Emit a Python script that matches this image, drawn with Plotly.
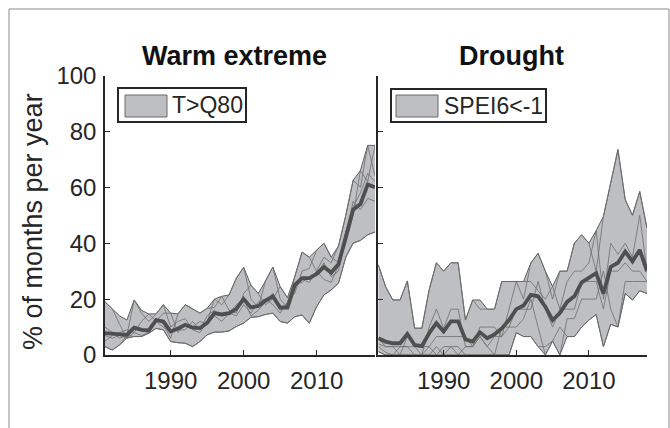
import plotly.graph_objects as go

W, H = 670, 428

years = list(range(1981, 2019))

# ---- Warm extreme (T>Q80) ----
warm_upper = [19, 16.5, 14, 12.5, 19.7, 16, 14.7, 14.7, 18, 15, 14.7, 18, 16.4, 15, 16.7, 20, 21, 21.5, 27.5, 31.4,
              25, 22, 26.5, 31.5, 24.5, 20.5, 28, 36.8, 35, 37.5, 40, 35, 39, 50, 62.5, 66, 75, 75]
warm_lower = [3, 1.8, 3.6, 6, 6.6, 6.6, 7.8, 9.5, 9, 4.8, 4.4, 4.2, 3, 4.8, 7.2, 8.2, 8.2, 8.6, 10.2, 11.4,
              13.5, 13.7, 14.5, 15, 12, 11.4, 13.7, 14.3, 11.4, 17.3, 21.5, 23.3, 25.7, 35, 40, 41, 43, 44]
warm_mean = [7.8, 7.5, 7.2, 7.2, 9.8, 9, 8.8, 12.5, 12, 8.4, 9.5, 10.8, 9.8, 9.6, 11.5, 15, 14.5, 15, 16.5, 20,
             17, 17.5, 19.5, 21, 17, 17, 25, 27.5, 27.5, 29, 31.5, 29.5, 32.5, 42, 52, 54, 61, 60]
warm_a = [10, 8, 6, 7, 19.7, 15, 12, 14.7, 18, 10, 12, 13, 9, 8, 12, 20, 18, 21.5, 27.5, 31.4,
          20, 17, 26.5, 31.5, 20, 17, 28, 36.8, 35, 30, 35, 33, 39, 50, 62.5, 60, 75, 64]
warm_b = [19, 16.5, 11, 6, 10, 9, 8, 13, 11, 6, 14.7, 18, 16.4, 15, 16.7, 17, 21, 16, 15, 22,
          25, 22, 18, 20, 24.5, 20.5, 22, 30, 31, 37.5, 40, 35, 33, 40, 50, 66, 62, 75]
warm_c = [5, 7, 8, 9, 8, 12, 14.7, 12, 15, 15, 8, 11, 10, 12, 11, 14, 12, 15, 14, 18,
          15, 19, 20, 18, 15, 19, 25, 26, 28, 29, 33, 28, 30, 42, 55, 52, 56, 55]
warm_d = [3, 1.8, 3.6, 7, 6.6, 6.6, 7.8, 9.5, 9, 4.8, 4.4, 4.2, 3, 4.8, 7.2, 8.2, 8.2, 8.6, 10.2, 11.4,
          13.5, 13.7, 14.5, 15, 12, 11.4, 13.7, 14.3, 11.4, 17.3, 21.5, 23.3, 25.7, 35, 40, 41, 43, 44]
warm_e = [7, 6, 7, 6, 8, 7, 8, 12, 10, 8, 9, 9, 12, 9, 14, 16, 14, 15, 18, 20,
          14, 16, 19, 22, 16, 18, 24, 27, 26, 30, 27, 26, 32, 44, 53, 58, 65, 62]

# ---- Drought (SPEI6<-1) ----
dry_upper = [32.3, 24.5, 19.7, 19.7, 26.5, 9.6, 9.6, 23.3, 33, 30, 33, 33, 12.5, 19.7, 19.7, 16.4, 16.4, 26.3, 26.3, 26.3,
             26.3, 32.9, 36.4, 30, 24.5, 30, 30, 40, 43, 40, 44.5, 49.6, 61.6, 73.5, 55.6, 50, 58.5, 45.4]
dry_lower = [1.2, 0, 0, 0, 0, 0, 0, 0, 0, 0, 0, 0, 0, 0, 0, 0, 0, 0, 0, 8,
             6.6, 6.6, 3, 0, 5, 0, 6.6, 6.6, 10, 12.5, 14.5, 3, 11, 10, 22, 19.7, 23, 22]
dry_mean = [6, 4.8, 4.2, 4.2, 7.5, 3.6, 3.2, 7.8, 11.4, 8.4, 12, 12, 5.6, 4.8, 8.1, 6, 7.4, 9.5, 12.5, 16.4,
            17.7, 21.5, 21, 17.3, 12.5, 15, 19, 21, 26, 27.5, 29.3, 22, 31.5, 33, 37, 33.5, 37.6, 30]
dry_a = [32.3, 24.5, 19.7, 19.7, 26.5, 9.6, 9.6, 23.3, 33, 30, 33, 33, 12.5, 19.7, 16.4, 16.4, 16.4, 26.3, 26.3, 26.3,
         20, 32.9, 36.4, 30, 20, 30, 30, 40, 43, 40, 30, 49.6, 61.6, 73.5, 55.6, 50, 58.5, 45.4]
dry_b = [3, 1, 0, 3, 3, 0, 0, 10, 16.4, 9.6, 16.4, 16.4, 3, 3, 10, 10, 10, 6.6, 16.4, 26.3,
         26.3, 26.3, 23, 20, 24.5, 16.4, 26.3, 30, 30, 33, 44.5, 20, 40, 36, 40, 35, 50, 30]
dry_c = [6, 3, 3, 0, 6.6, 3, 3, 3, 6.6, 6.6, 6.6, 6.6, 6.6, 3, 6.6, 3, 6.6, 6.6, 10, 16.4,
         16.4, 16.4, 26.3, 16.4, 10, 16.4, 16.4, 16.4, 26.3, 26.3, 26.3, 16.4, 30, 30, 33, 30, 30, 26.3]
dry_d = [1.2, 0, 0, 0, 0, 0, 0, 0, 3, 0, 3, 3, 0, 0, 0, 0, 0, 0, 0, 8,
         6.6, 6.6, 3, 3, 5, 10, 6.6, 6.6, 10, 12.5, 14.5, 3, 11, 10, 22, 19.7, 23, 22]
dry_e = [4, 3, 3, 3, 3, 3, 0, 3, 0, 3, 3, 0, 3, 3, 6.6, 3, 0, 10, 10, 10,
         13, 20, 10, 0, 5, 0, 13, 13, 20, 20, 20, 30, 16.4, 10, 26.3, 26.3, 26.3, 26.3]

panel_titles = ["Warm extreme", "Drought"]
legend_labels = ["T>Q80", "SPEI6<-1"]
y_title = "% of months per year"
x_ticks = [1990, 2000, 2010]
y_ticks = [0, 20, 40, 60, 80, 100]

FONT = "Liberation Sans, Arial, Helvetica, sans-serif"
TXT = "#262626"
BAND = "#bebfc3"
EDGE = "#5e5e5e"
THIN = "#6e6e6e"
MEAN = "#4f4f4f"


def px(x):
    return x / W


def py(y):
    return 1 - y / H


fig = go.Figure()

panels = [
    ("x", "y", warm_lower, warm_upper, [warm_a, warm_b, warm_c, warm_d, warm_e], warm_mean),
    ("x2", "y2", dry_lower, dry_upper, [dry_a, dry_b, dry_c, dry_d, dry_e], dry_mean),
]
for xa, ya, lo, up, members, mean in panels:
    fig.add_trace(go.Scatter(x=years, y=lo, xaxis=xa, yaxis=ya, mode="lines",
                             line=dict(color=EDGE, width=1), showlegend=False, hoverinfo="skip"))
    fig.add_trace(go.Scatter(x=years, y=up, xaxis=xa, yaxis=ya, mode="lines", fill="tonexty",
                             fillcolor=BAND, line=dict(color=EDGE, width=1), showlegend=False,
                             hoverinfo="skip"))
    for m in members:
        fig.add_trace(go.Scatter(x=years, y=m, xaxis=xa, yaxis=ya, mode="lines",
                                 line=dict(color=THIN, width=0.8), showlegend=False))
    fig.add_trace(go.Scatter(x=years, y=mean, xaxis=xa, yaxis=ya, mode="lines",
                             line=dict(color=MEAN, width=3.8), showlegend=False))

axis_common = dict(showgrid=False, zeroline=False, showline=True, linecolor=TXT, linewidth=1.5,
                   ticks="inside", ticklen=5, tickwidth=1.2, tickcolor=TXT, automargin=False,
                   tickfont=dict(family=FONT, size=24, color=TXT))

fig.update_layout(
    width=W, height=H, autosize=False,
    margin=dict(l=0, r=0, t=0, b=0, pad=0),
    paper_bgcolor="white", plot_bgcolor="rgba(0,0,0,0)",
    showlegend=False,
    xaxis=dict(domain=[px(105), px(375)], range=[1981, 2018], tickvals=x_ticks, anchor="y",
               ticklabelstandoff=3, **axis_common),
    yaxis=dict(domain=[py(355), py(75.5)], range=[0, 100], tickvals=y_ticks, anchor="x",
               ticklabelstandoff=2, **axis_common),
    xaxis2=dict(domain=[px(378.3), px(647)], range=[1981, 2018], tickvals=x_ticks, anchor="y2",
                ticklabelstandoff=3, **axis_common),
    yaxis2=dict(domain=[py(355), py(75.5)], range=[0, 100], tickvals=y_ticks, anchor="x2",
                showticklabels=False, **axis_common),
)

# outer frame (open at bottom)
fig.add_shape(type="path", xref="paper", yref="paper",
              path=f"M {px(9)},{py(440)} L {px(9)},{py(9)} L {px(669)},{py(9)} L {px(669)},{py(440)}",
              line=dict(color="#8a8a8a", width=1))

# titles
for title, cx in zip(panel_titles, [234, 511.5]):
    fig.add_annotation(text=f"<b>{title}</b>", x=px(cx), y=py(56), xref="paper", yref="paper",
                       xanchor="center", yanchor="middle", showarrow=False,
                       font=dict(family=FONT, size=27, color="#111111"))

# y-axis title
fig.add_annotation(text=y_title, x=px(33), y=py(222), xref="paper", yref="paper",
                   textangle=-90, xanchor="center", yanchor="middle", showarrow=False,
                   font=dict(family=FONT, size=27, color=TXT))

# legend boxes
legend_geo = [
    (118, 246, 88, 122, 125, 167, 95, 117, 170),
    (391, 546, 89, 122, 396, 438, 95, 117, 442),
]
for label, (bx0, bx1, by0, by1, sx0, sx1, sy0, sy1, tx) in zip(legend_labels, legend_geo):
    fig.add_shape(type="rect", xref="paper", yref="paper", x0=px(bx0), x1=px(bx1), y0=py(by1), y1=py(by0),
                  line=dict(color=TXT, width=2), fillcolor="white")
    fig.add_shape(type="rect", xref="paper", yref="paper", x0=px(sx0), x1=px(sx1), y0=py(sy1), y1=py(sy0),
                  line=dict(color="#6a6a6a", width=1), fillcolor=BAND)
    fig.add_annotation(text=label, x=px(tx), y=py((by0 + by1) / 2), xref="paper", yref="paper",
                       xanchor="left", yanchor="middle", showarrow=False,
                       font=dict(family=FONT, size=23, color=TXT))

fig.write_html("out.html", config={"responsive": False, "displayModeBar": False},
               post_script="document.body.style.margin='0';document.body.style.overflow='hidden';")
